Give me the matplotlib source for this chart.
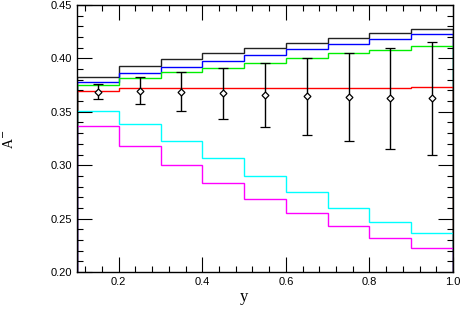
import numpy as np
import matplotlib
matplotlib.use('Agg')
import matplotlib.pyplot as plt
from matplotlib.ticker import MultipleLocator

# bin edges in y and histogram heights
edges = [0.1, 0.2, 0.3, 0.4, 0.5, 0.6, 0.7, 0.8, 0.9, 1.0]
black = [0.383, 0.393, 0.3995, 0.405, 0.410, 0.4147, 0.4194, 0.4235, 0.4278]
blue = [0.3776, 0.3861, 0.3917, 0.3976, 0.4032, 0.4085, 0.4134, 0.4185, 0.4229]
green = [0.3748, 0.3814, 0.387, 0.3913, 0.396, 0.4004, 0.4051, 0.4082, 0.4119]
red = [0.3698, 0.372, 0.372, 0.372, 0.372, 0.372, 0.372, 0.3725, 0.3735]
cyan = [0.3512, 0.3383, 0.3227, 0.3065, 0.2902, 0.2745, 0.2597, 0.2469, 0.2363]
magenta = [0.3367, 0.318, 0.300, 0.2837, 0.2687, 0.255, 0.2431, 0.2322, 0.2228]

# data points
x_pts = [0.15, 0.25, 0.35, 0.45, 0.55, 0.65, 0.75, 0.85, 0.95]
y_pts = [0.3689, 0.3698, 0.3689, 0.3673, 0.3658, 0.3645, 0.3636, 0.3627, 0.3627]
y_err = [0.0071, 0.0128, 0.0183, 0.0238, 0.0300, 0.0358, 0.0414, 0.0475, 0.0530]

fig = plt.figure(figsize=(4.61, 3.11), dpi=100)
ax = fig.add_axes([77/461, 39/311, 376/461, 267/311])

for vals, col in [(black, '#222222'), (blue, '#0000ff'), (green, '#00ee00'),
                  (red, '#ff0000'), (cyan, '#00ffff'), (magenta, '#ff00ff')]:
    ax.stairs(vals, edges, color=col, lw=1.0)

ax.errorbar(x_pts, y_pts, yerr=y_err, fmt='D', ms=3.5, mfc='white', mec='black',
            mew=0.9, ecolor='black', elinewidth=1.0, capsize=3.5, capthick=1.0, zorder=5)

ax.set_xlim(0.1, 1.0)
ax.set_ylim(0.20, 0.45)
ax.xaxis.set_major_locator(MultipleLocator(0.2))
ax.xaxis.set_minor_locator(MultipleLocator(0.04))
ax.yaxis.set_major_locator(MultipleLocator(0.05))
ax.yaxis.set_minor_locator(MultipleLocator(0.01))
ax.xaxis.set_major_formatter(matplotlib.ticker.FormatStrFormatter('%.1f'))
ax.yaxis.set_major_formatter(matplotlib.ticker.FormatStrFormatter('%.2f'))
ax.tick_params(which='both', direction='in', top=True, right=True, width=0.8,
               labelsize=8)
ax.tick_params(which='major', length=11)
ax.tick_params(which='minor', length=4)
for lab in ax.get_xticklabels() + ax.get_yticklabels():
    lab.set_family('Liberation Sans')
for s in ax.spines.values():
    s.set_linewidth(1.0)

fig.text(244/461, 1 - 297/311, 'y', family='Liberation Serif', fontsize=12,
         ha='center', va='center')
fig.text(9/461, 1 - 139/311, r'A$^{-}$', family='Liberation Serif', fontsize=10,
         ha='center', va='center', rotation=90)

fig.savefig('out.png', dpi=100)
